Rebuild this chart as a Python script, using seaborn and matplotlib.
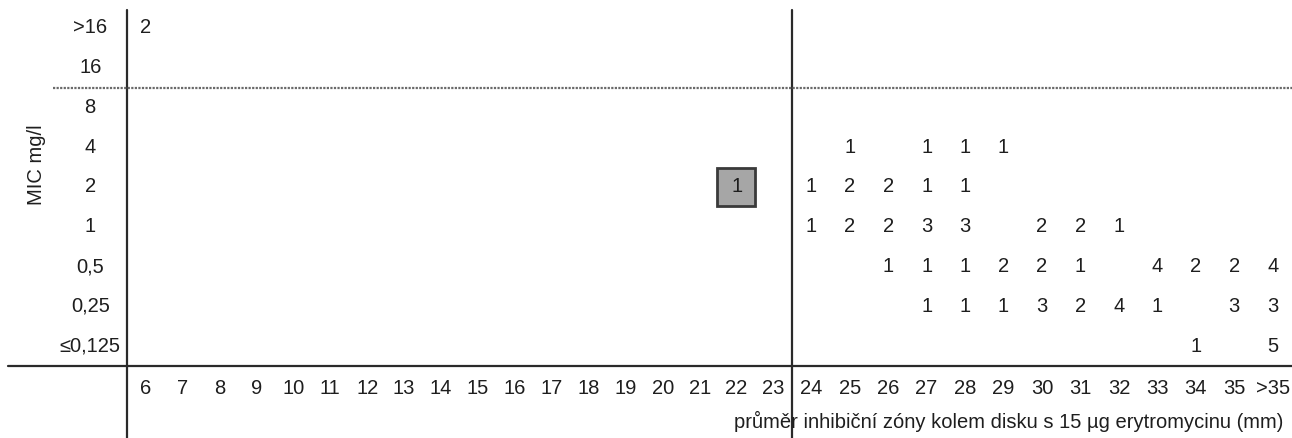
import numpy as np
import pandas as pd
import matplotlib
matplotlib.use("Agg")
import matplotlib.pyplot as plt
import seaborn as sns
from matplotlib.colors import ListedColormap
from matplotlib.lines import Line2D
from matplotlib.patches import Rectangle
from matplotlib.transforms import blended_transform_factory as btf
from matplotlib import font_manager as fm

# ---------------- data ----------------
mic_labels = [">16", "16", "8", "4", "2", "1", "0,5", "0,25", "≤0,125"]
zone_labels = [str(i) for i in range(6, 36)] + [">35"]

row_gt16 = {"6": 2}
row_16 = {}
row_8 = {}
row_4 = {"25": 1, "27": 1, "28": 1, "29": 1}
row_2 = {"22": 1, "24": 1, "25": 2, "26": 2, "27": 1, "28": 1}
row_1 = {"24": 1, "25": 2, "26": 2, "27": 3, "28": 3, "30": 2, "31": 2, "32": 1}
row_05 = {"26": 1, "27": 1, "28": 1, "29": 2, "30": 2, "31": 1,
          "33": 4, "34": 2, "35": 2, ">35": 4}
row_025 = {"27": 1, "28": 1, "29": 1, "30": 3, "31": 2, "32": 4,
           "33": 1, "35": 3, ">35": 3}
row_0125 = {"34": 1, ">35": 5}

highlight_cell = ("2", "22")       # (MIC, zone) shown in grey box
zone_breakpoint = "24"             # vertical divider before this column
mic_breakpoint = "8"               # horizontal dotted divider before this row

xlabel = "průměr inhibiční zóny kolem disku s 15 µg erytromycinu (mm)"
ylabel = "MIC mg/l"

rows = [row_gt16, row_16, row_8, row_4, row_2, row_1, row_05, row_025, row_0125]
table = pd.DataFrame(np.nan, index=mic_labels, columns=zone_labels)
for lab, r in zip(mic_labels, rows):
    for k, v in r.items():
        table.loc[lab, k] = v

# ---------------- style ----------------
sns.set_theme(style="white")
names = {f.name for f in fm.fontManager.ttflist}
main_font = "Liberation Sans Narrow" if "Liberation Sans Narrow" in names else "Liberation Sans"
plt.rcParams["font.family"] = [main_font, "DejaVu Sans"]
FS = 14.5
TXT = "#1e1e1e"
LINE = "#2a2a2a"

W, H = 1292, 438
fig = plt.figure(figsize=(W / 100, H / 100), dpi=100)
fig.patch.set_facecolor("white")

x_left, x_div, x_right = 127, 792, 1292
y_top, y_bot = 8, 366
bottom = 1 - y_bot / H
height = (y_bot - y_top) / H

split = zone_labels.index(zone_breakpoint)
left_tab = table.iloc[:, :split]
right_tab = table.iloc[:, split:]

axL = fig.add_axes([x_left / W, bottom, (x_div - x_left) / W, height])
axR = fig.add_axes([x_div / W, bottom, (x_right - x_div) / W, height])

cmap = ListedColormap(["white"])
for ax, tab in ((axL, left_tab), (axR, right_tab)):
    sns.heatmap(tab, ax=ax, cmap=cmap, cbar=False, annot=True, fmt="g",
                annot_kws={"fontsize": FS, "color": TXT}, linewidths=0)
    ax.set_xlabel("")
    ax.set_ylabel("")
    ax.tick_params(axis="both", length=0)
    ax.tick_params(axis="x", pad=9, labelsize=FS, labelcolor=TXT, rotation=0)
    for t in ax.get_xticklabels():
        t.set_rotation(0)

axL.tick_params(axis="y", pad=26.5, labelsize=FS, labelcolor=TXT)
for t in axL.get_yticklabels():
    t.set_rotation(0)
    t.set_ha("center")
axR.set_yticks([])

# highlighted cell
r_i = mic_labels.index(highlight_cell[0])
c_i = list(left_tab.columns).index(highlight_cell[1])
axL.add_patch(Rectangle((c_i - 0.02, r_i + 0.03), 1.02, 0.96, facecolor="#a6a6a6",
                        edgecolor="#3a3a3a", lw=2, zorder=1))

# vertical lines (left axis, divider) extending below the plot
for ax in (axL, axR):
    tr = btf(ax.transData, fig.transFigure)
    fig.add_artist(Line2D([0, 0], [0, 1 - 10 / H], transform=tr, color=LINE, lw=1.6))

# bottom solid line
trb = btf(fig.transFigure, axL.transData)
fig.add_artist(Line2D([8 / W, 1], [len(mic_labels), len(mic_labels)], transform=trb,
                      color=LINE, lw=1.6))
# dotted MIC breakpoint line
yb = mic_labels.index(mic_breakpoint)
fig.add_artist(Line2D([53 / W, 1], [yb, yb], transform=trb, color="#6a6a6a",
                      lw=1.6, ls=(0, (1, 0.6))))

fig.text(37 / W, 1 - 165 / H, ylabel, rotation=90, ha="center", va="center",
         fontsize=FS, color=TXT)
fig.text(1283 / W, 1 - 421 / H, xlabel, ha="right", va="center",
         fontsize=FS, color=TXT)

fig.savefig("out.png", dpi=100, facecolor="white")
